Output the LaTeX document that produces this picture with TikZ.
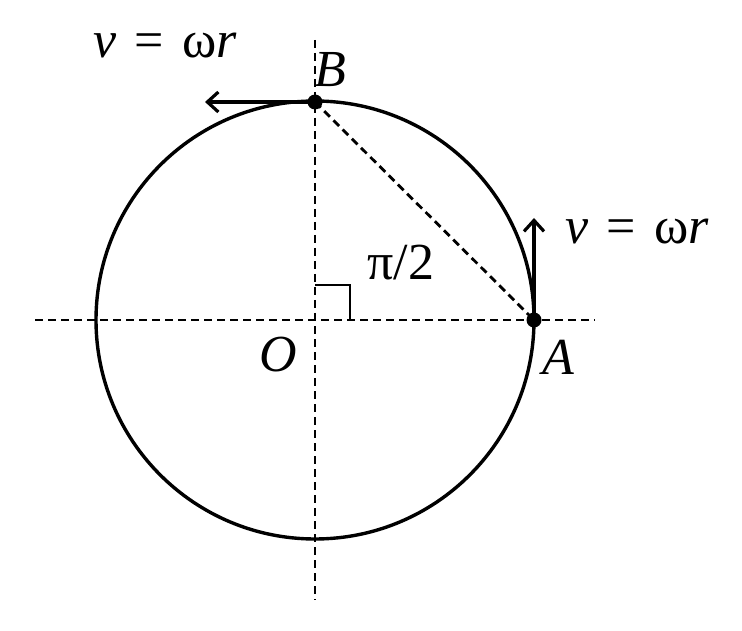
\documentclass[tikz,border=0pt]{standalone}
\usepackage{fontspec}
\setmainfont{Liberation Serif}
\usetikzlibrary{arrows.meta}
\begin{document}
\begin{tikzpicture}[x=1pt,y=-1pt,line width=3.4pt,
  dashline/.style={dashed,dash pattern=on 8pt off 5pt,line width=2.8pt},
  lbl/.style={font=\fontsize{52}{58}\selectfont,inner sep=0pt},
  dot/.style={circle,fill=black,inner sep=0pt,minimum size=15pt},
  vel/.style={-{Straight Barb[length=11pt,width=20pt,line width=3.2pt]},line width=3.4pt}]
\useasboundingbox (0,0) rectangle (742,631);
\coordinate (O) at (315,320);
\coordinate (L) at (35,320); \coordinate (R) at (595,320);
\coordinate (T) at (315,40); \coordinate (D) at (315,600);
\draw[dashline] (L) -- (R);
\draw[dashline] (T) -- (D);
\draw (O) circle (219);
\node[dot] (A) at (534,320) {};
\node[dot] (B) at (315,102) {};
\draw[dashline] (B.center) -- (A.center);
\coordinate (vb) at (205,102);
\coordinate (va) at (534,218);
\draw[vel] (B.center) -- (vb);
\draw[vel] (A.center) -- (va);
\draw[line width=2.8pt] (315,285) -- (350,285) -- (350,320);
\node[lbl] (t1) at (165,46) {\itshape v\upshape\hspace{0.35em}=\hspace{0.35em}ω\itshape r};
\node[lbl] (t2) at (637,232) {\itshape v\upshape\hspace{0.35em}=\hspace{0.35em}ω\itshape r};
\node[lbl] (tB) at (330,70) {\itshape B};
\node[lbl] (tA) at (558,357) {\itshape A};
\node[lbl] (tO) at (278,355) {\itshape O};
\node[lbl] (tp) at (401,263) {π/2};
\end{tikzpicture}
\end{document}
